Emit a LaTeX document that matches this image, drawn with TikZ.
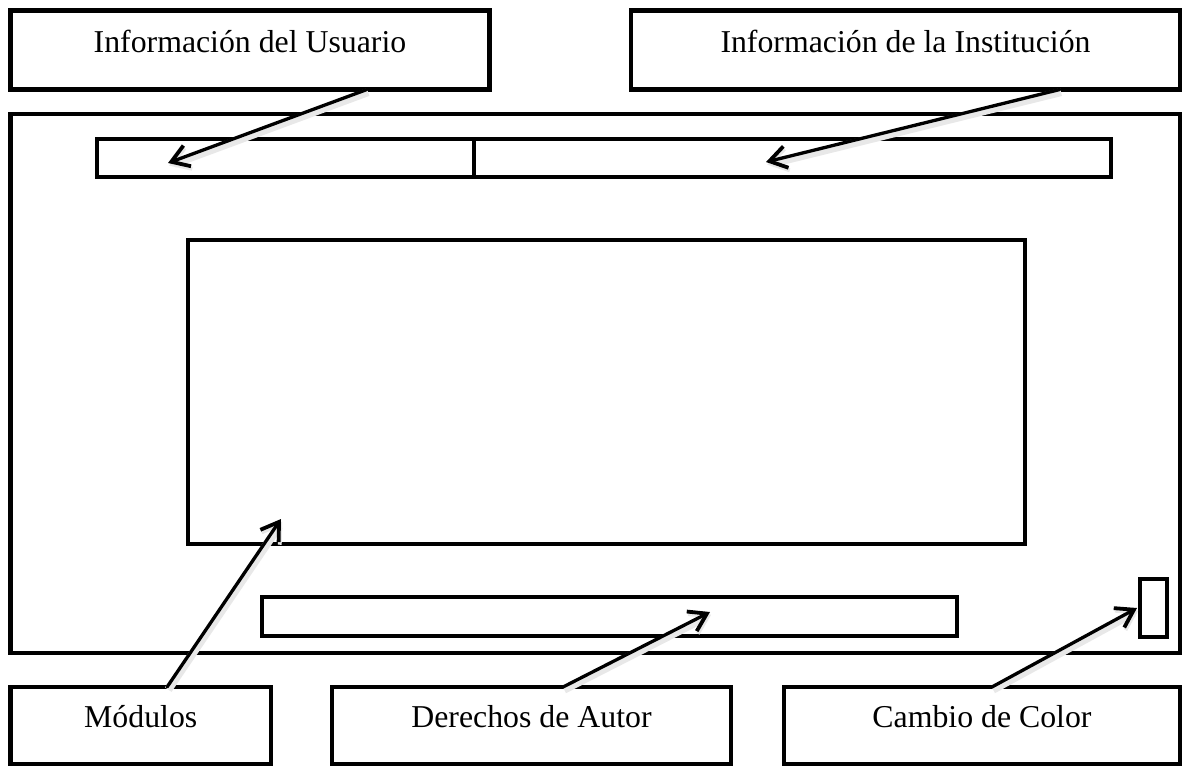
\documentclass[tikz,border=0pt]{standalone}
\usepackage{fontspec}
\setmainfont{Liberation Serif}
\usetikzlibrary{arrows.meta,calc}
\begin{document}
\begin{tikzpicture}[x=0.5pt,y=-0.5pt,
  box/.style={draw=black, line width=2.25pt, rectangle, inner sep=0pt, outer sep=0pt},
  lbl/.style={font=\fontsize{15.9}{19}\selectfont, inner sep=0pt},
  pointer/.style={line width=1.65pt, line cap=round,
    -{Straight Barb[length=8.5pt,width=11pt,line width=1.9pt]},
    preaction={draw=black!9, line width=4pt, transform canvas={shift={(0.6pt,-1.3pt)}}}}
]
\useasboundingbox (0,0) rectangle (1183,767);
\fill[white] (0,0) rectangle (1183,767);

% callout boxes
\node[box, minimum width=239.5pt, minimum height=39.5pt,
  label={[lbl, anchor=base, yshift=-20.75pt]north:Información del Usuario}] (ui) at (250,50) {};
\node[box, minimum width=274.5pt, minimum height=39.5pt,
  label={[lbl, anchor=base, yshift=-20.75pt]north:Información de la Institución}] (inst) at (905.5,50) {};
\node[box, minimum width=130.25pt, minimum height=38.5pt,
  label={[lbl, anchor=base, yshift=-20pt]north:Módulos}] (mod) at (140.75,725.5) {};
\node[box, minimum width=199.5pt, minimum height=38.5pt,
  label={[lbl, anchor=base, yshift=-20pt]north:Derechos de Autor}] (der) at (531.5,725.5) {};
\node[box, minimum width=198pt, minimum height=38.5pt,
  label={[lbl, anchor=base, yshift=-20pt]north:Cambio de Color}] (cam) at (982,725.5) {};

% screen layout
\node[box, minimum width=584.75pt, minimum height=269.5pt] (frame) at (595.25,383.5) {};
\node[box, minimum width=188.5pt, minimum height=19pt] (userbar) at (285.5,158) {};
\node[box, minimum width=318.5pt, minimum height=19pt] (instbar) at (792.5,158) {};
\node[box, minimum width=418.5pt, minimum height=152pt] (content) at (606.5,392) {};
\node[box, minimum width=347.5pt, minimum height=19.5pt] (footer) at (609.5,616.5) {};
\node[box, minimum width=13.5pt, minimum height=29pt] (colorbtn) at (1153.5,608) {};

% arrow targets
\coordinate (t1) at (168,163);
\coordinate (t2) at (766,162);
\coordinate (t3) at (281,519);
\coordinate (t4) at (710,612);

% connectors
\draw[pointer] ($(ui.south west)!0.744!(ui.south east)$) -- (t1);
\draw[pointer] ($(inst.south west)!0.781!(inst.south east)$) -- (t2);
\draw[pointer] ($(mod.north west)!0.601!(mod.north east)$) -- (t3);
\draw[pointer] ($(der.north west)!0.579!(der.north east)$) -- (t4);
\draw[pointer] ($(cam.north west)!0.525!(cam.north east)$) -- ($(colorbtn.west)+(-3,0)$);
\end{tikzpicture}
\end{document}
